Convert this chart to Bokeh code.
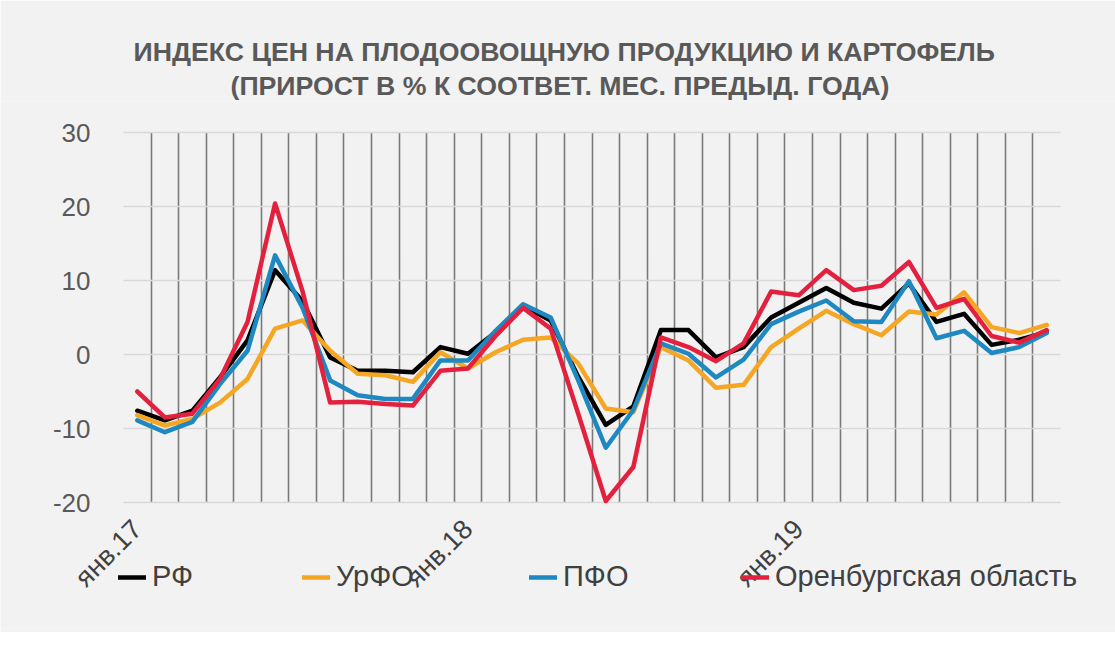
import math
from bokeh.plotting import figure
from bokeh.models import FixedTicker, Legend, LegendItem, Title, Range1d, Grid
from bokeh.embed import file_html
from bokeh.resources import INLINE

months = ["янв.17", "фев.17", "мар.17", "апр.17", "май.17", "июн.17", "июл.17", "авг.17",
          "сен.17", "окт.17", "ноя.17", "дек.17",
          "янв.18", "фев.18", "мар.18", "апр.18", "май.18", "июн.18", "июл.18", "авг.18",
          "сен.18", "окт.18", "ноя.18", "дек.18",
          "янв.19", "фев.19", "мар.19", "апр.19", "май.19", "июн.19", "июл.19", "авг.19",
          "сен.19", "окт.19"]

rf = [-7.6, -8.9, -7.6, -3.1, 1.9, 11.4, 7.2, -0.4, -2.2, -2.2, -2.4, 1.0, 0.1,
      3.0, 6.6, 4.6, -3.0, -9.5, -7.0, 3.3, 3.3, -0.4, 1.0,
      5.0, 7.0, 9.0, 7.0, 6.2, 9.6, 4.4, 5.5, 1.3, 2.0, 3.0]
urfo = [-8.2, -9.6, -8.7, -6.5, -3.3, 3.5, 4.6, 0.5, -2.6, -2.8, -3.7, 0.3, -1.9,
        0.3, 2.0, 2.3, -1.2, -7.3, -7.8, 1.0, -0.8, -4.5, -4.1,
        1.0, 3.5, 5.9, 4.1, 2.6, 5.8, 5.4, 8.4, 3.7, 2.9, 4.0]
pfo = [-8.9, -10.5, -9.1, -4.0, 0.5, 13.4, 6.3, -3.5, -5.5, -6.0, -6.0, -0.8, -0.8,
       3.2, 6.8, 5.0, -3.5, -12.6, -7.5, 1.5, 0.1, -3.1, -0.7,
       4.1, 5.8, 7.3, 4.5, 4.4, 9.9, 2.2, 3.2, 0.2, 1.0, 2.9]
oren = [-5.0, -8.5, -8.0, -3.3, 4.4, 20.4, 8.5, -6.5, -6.4, -6.7, -6.9, -2.2, -1.9,
        2.5, 6.3, 3.5, -8.0, -19.8, -15.2, 2.3, 1.0, -0.9, 1.5,
        8.5, 8.0, 11.4, 8.7, 9.3, 12.5, 6.3, 7.5, 2.5, 1.6, 3.3]

series_names = ["РФ", "УрФО", "ПФО", "Оренбургская область"]
series_colors = ["#000000", "#F5A623", "#1E88C0", "#E3213F"]
y_ticks = [-20, -10, 0, 10, 20, 30]
y_labels = {-20: "-20", -10: "-10", 0: "0", 10: "10", 20: "20", 30: "30"}
label_idx = [0, 12, 24]
title_line1 = "ИНДЕКС ЦЕН НА ПЛОДООВОЩНУЮ ПРОДУКЦИЮ И КАРТОФЕЛЬ"
title_line2 = "(ПРИРОСТ В % К СООТВЕТ. МЕС. ПРЕДЫД. ГОДА)"

n = len(months)
x = list(range(n))
FONT = "Liberation Sans"
BG = "#f2f2f2"

# layout (pixels)
W, H = 1115, 632
TOP, BOTTOM = 101, 4
PLOT_LEFT_PX, PLOT_RIGHT_PX = 123, 1060     # gridded area
PX_PER_CAT = (PLOT_RIGHT_PX - PLOT_LEFT_PX) / n
Y_MIN, Y_MAX = y_ticks[0], y_ticks[-1]
PX_PER_UNIT = 7.4
PX_30, PX_M20 = 132, 502
frame_bottom = H - BOTTOM
y_top = Y_MAX + (PX_30 - TOP) / PX_PER_UNIT
y_bot = Y_MIN - (frame_bottom - PX_M20) / PX_PER_UNIT
x_lo_grid, x_hi_grid = -0.5, n - 0.5
x_lo = x_lo_grid - PLOT_LEFT_PX / PX_PER_CAT
x_hi = x_hi_grid + (W - PLOT_RIGHT_PX) / PX_PER_CAT

p = figure(width=W, height=H, output_backend="svg", toolbar_location=None,
           x_range=Range1d(x_lo, x_hi), y_range=Range1d(y_bot, y_top),
           background_fill_color=BG, border_fill_color=BG, title=None,
           min_border_left=0, min_border_right=0, min_border_top=TOP,
           min_border_bottom=BOTTOM)
p.outline_line_color = None

seps = [i + 0.5 for i in range(n - 1)]
GRID_DARK, GRID_LIGHT = "#7a7a7a", "#d9d9d9"
if "cross_bounds" in Grid.properties():
    p.xgrid.ticker = FixedTicker(ticks=seps)
    p.xgrid.cross_bounds = (Y_MIN, Y_MAX)
    p.xgrid.grid_line_color = GRID_DARK
    p.xgrid.grid_line_width = 1.6
    p.ygrid.ticker = FixedTicker(ticks=y_ticks)
    p.ygrid.cross_bounds = (x_lo_grid, x_hi_grid)
    p.ygrid.grid_line_color = GRID_LIGHT
    p.ygrid.grid_line_width = 1.6
else:
    p.xgrid.visible = False
    p.ygrid.visible = False
    p.segment(x0=[x_lo_grid] * len(y_ticks), y0=y_ticks, x1=[x_hi_grid] * len(y_ticks),
              y1=y_ticks, line_color=GRID_LIGHT, line_width=1.6)
    p.segment(x0=seps, y0=[Y_MIN] * len(seps), x1=seps, y1=[Y_MAX] * len(seps),
              line_color=GRID_DARK, line_width=1.6)

# y axis, drawn at the left edge of the gridded area
p.yaxis.fixed_location = x_lo_grid
p.yaxis.ticker = FixedTicker(ticks=y_ticks)
p.yaxis.major_label_overrides = y_labels
p.yaxis.axis_line_color = None
p.yaxis.major_tick_line_color = None
p.yaxis.minor_tick_line_color = None
p.yaxis.major_label_standoff = 27
p.yaxis.major_label_text_font = FONT
p.yaxis.major_label_text_font_size = "26px"
p.yaxis.major_label_text_color = "#595959"

# x axis, drawn at the -20 line
p.xaxis.fixed_location = Y_MIN
p.xaxis.ticker = FixedTicker(ticks=label_idx)
p.xaxis.major_label_overrides = {i: months[i] for i in label_idx}
p.xaxis.major_label_orientation = math.pi / 4
p.xaxis.axis_line_color = None
p.xaxis.major_tick_line_color = None
p.xaxis.minor_tick_line_color = None
p.xaxis.major_label_standoff = 16
p.xaxis.major_label_text_font = FONT
p.xaxis.major_label_text_font_size = "27px"
p.xaxis.major_label_text_color = "#404040"

# titles
p.add_layout(Title(text=title_line2, align="left", offset=230, text_font=FONT,
                   text_font_size="26.7px", text_font_style="bold",
                   text_color="#595959", standoff=2), "above")
p.add_layout(Title(text=title_line1, align="left", offset=133, text_font=FONT,
                   text_font_size="26.7px", text_font_style="bold",
                   text_color="#595959", standoff=2), "above")

renderers = []
for vals, col in zip([rf, urfo, pfo, oren], series_colors):
    r = p.line(x, vals, line_color=col, line_width=4.5, line_join="round", line_cap="round")
    renderers.append(r)

legend_x = [118, 302, 529, 741]
for name, r, lx in zip(series_names, renderers, legend_x):
    lg = Legend(items=[LegendItem(label=name, renderers=[r])], location=(lx, 35),
                orientation="horizontal", glyph_width=28, glyph_height=26,
                label_standoff=6, padding=0, margin=0, spacing=0,
                border_line_color=None, background_fill_alpha=0,
                label_text_font=FONT, label_text_font_size="29px",
                label_text_color="#404040")
    p.add_layout(lg)

open("out.html", "w").write(file_html(p, INLINE))
